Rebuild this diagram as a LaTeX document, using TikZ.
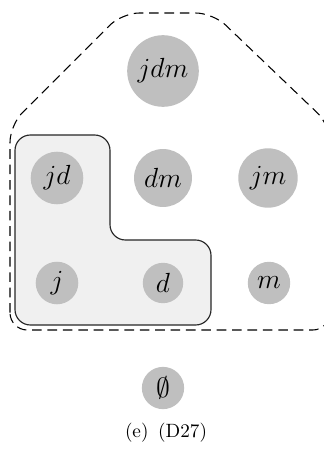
\documentclass[tikz,border=0pt]{standalone}
\usepackage{amsmath, amssymb}
\usepackage{tikz}
\usetikzlibrary{shapes, positioning}

\begin{document}
\begin{tikzpicture}[x=0.52pt, y=-0.52pt,
		elem/.style={circle, fill=gray!50, minimum size=21pt, inner sep=3pt, font=\Large},
		region/.style={draw=black!85, fill=gray!12, rounded corners=8pt, line width=0.6pt},
		hull/.style={draw=black, dash pattern=on 5pt off 3pt, rounded corners=9pt, line width=0.55pt}]
			\useasboundingbox (0,0) rectangle (324,450);
			
			%% Huelle
			\draw[hull] (10,330) -- (10,125) -- (122,13) -- (213,13) -- (330,125)
				-- (330,330) -- cycle;
			
			%% L
			\draw[region] (15,325) -- (15,135) -- (110,135) -- (110,240)
				-- (211,240) -- (211,325) -- cycle;
			
			%% Knoten
			\node[elem] (jdm) at (163,71) {$jdm$};
			\node[elem] (jd) at (57,178) {$jd$};
			\node[elem] (dm) at (163,178) {$dm$};
			\node[elem] (jm) at (268,178) {$jm$};
			\node[elem] (j) at (57,283) {$j$};
			\node[elem] (d) at (163,283) {$d$};
			\node[elem] (m) at (269,283) {$m$};
			\node[elem] (empty) at (163,388) {$\emptyset$};
			
			%% Caption
			\node (caption) at (166,433) {(e)\enspace(D27)};
		\end{tikzpicture}
\end{document}
